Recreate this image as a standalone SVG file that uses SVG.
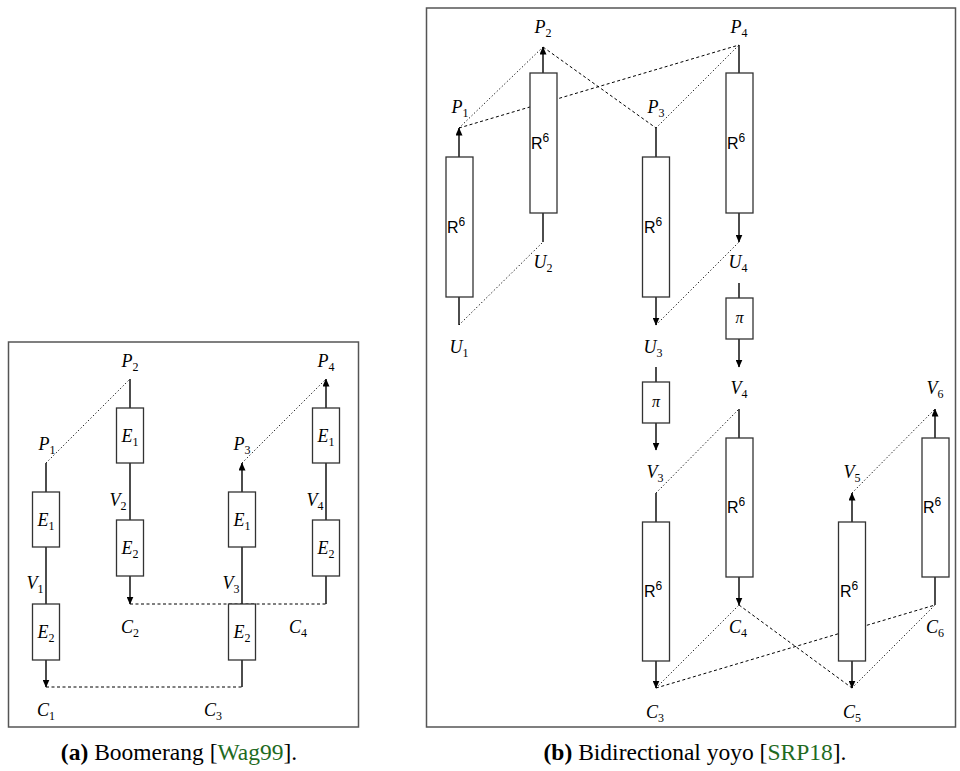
<svg xmlns="http://www.w3.org/2000/svg" width="960" height="771" viewBox="0 0 960 771">
<defs>
<marker id="ah" markerUnits="userSpaceOnUse" markerWidth="8" markerHeight="7" refX="7.5" refY="3.5" orient="auto">
<path d="M0,0 L8,3.5 L0,7 z" fill="#000"/>
</marker>
<style>
.frame{fill:none;stroke:#555;stroke-width:1.5}
.box{fill:#fff;stroke:#333;stroke-width:1.3}
.stem{fill:none;stroke:#000;stroke-width:1.4}
.arr{fill:none;stroke:#000;stroke-width:1.4;marker-end:url(#ah)}
.dot{fill:none;stroke:#000;stroke-width:1;stroke-dasharray:1.2 2.3}
.dash{fill:none;stroke:#000;stroke-width:1;stroke-dasharray:3 2.5}
.m{font-family:"Liberation Serif",serif;font-style:italic;font-size:18px;text-anchor:middle;fill:#000}
.s{font-size:12px;font-style:normal}
.r{font-family:"Liberation Sans",Arial,sans-serif;font-size:16px;text-anchor:middle;fill:#000}
.pi{font-family:"Liberation Serif",serif;font-style:italic;font-size:16px;text-anchor:middle;fill:#000}
.cap{font-family:"Liberation Serif","Times New Roman",serif;font-size:23.5px;text-anchor:middle;fill:#000}
.cite{fill:#1f6b1f}
</style>
</defs>
<rect class="frame" x="8.5" y="342" width="350" height="385"/>
<rect class="frame" x="426.5" y="8" width="529" height="719"/>

<g id="connectors">
<line class="stem" x1="46" y1="463" x2="46" y2="492"/>
<line class="stem" x1="46" y1="547" x2="46" y2="604"/>
<line class="arr" x1="46" y1="660" x2="46" y2="687"/>
<line class="stem" x1="130" y1="379" x2="130" y2="408"/>
<line class="stem" x1="130" y1="463" x2="130" y2="520"/>
<line class="arr" x1="130" y1="576" x2="130" y2="604"/>
<line class="arr" x1="242" y1="492" x2="242" y2="463"/>
<line class="stem" x1="242" y1="547" x2="242" y2="604"/>
<line class="stem" x1="242" y1="660" x2="242" y2="687"/>
<line class="arr" x1="326" y1="408" x2="326" y2="379"/>
<line class="stem" x1="326" y1="463" x2="326" y2="520"/>
<line class="stem" x1="326" y1="576" x2="326" y2="604"/>
<line class="dot" x1="46" y1="463" x2="130" y2="379"/>
<line class="dot" x1="242" y1="463" x2="326" y2="379"/>
<line class="dash" x1="130" y1="604" x2="326" y2="604"/>
<line class="dash" x1="46" y1="687" x2="242" y2="687"/>
<line class="arr" x1="459" y1="157" x2="459" y2="128"/>
<line class="stem" x1="459" y1="297" x2="459" y2="325"/>
<line class="arr" x1="543" y1="73" x2="543" y2="47"/>
<line class="stem" x1="543" y1="213" x2="543" y2="242"/>
<line class="stem" x1="656" y1="128" x2="656" y2="157"/>
<line class="arr" x1="656" y1="297" x2="656" y2="325"/>
<line class="stem" x1="656" y1="367" x2="656" y2="382"/>
<line class="arr" x1="656" y1="423" x2="656" y2="450"/>
<line class="stem" x1="656" y1="493" x2="656" y2="522"/>
<line class="arr" x1="656" y1="661" x2="656" y2="688"/>
<line class="stem" x1="739" y1="45" x2="739" y2="73"/>
<line class="arr" x1="739" y1="213" x2="739" y2="242"/>
<line class="stem" x1="739" y1="283" x2="739" y2="298"/>
<line class="arr" x1="739" y1="339" x2="739" y2="367"/>
<line class="stem" x1="739" y1="409" x2="739" y2="438"/>
<line class="arr" x1="739" y1="577" x2="739" y2="605"/>
<line class="arr" x1="852" y1="522" x2="852" y2="493"/>
<line class="arr" x1="852" y1="661" x2="852" y2="688"/>
<line class="arr" x1="935" y1="438" x2="935" y2="409"/>
<line class="stem" x1="935" y1="577" x2="935" y2="605"/>
<line class="dot" x1="459" y1="128" x2="543" y2="47"/>
<line class="dot" x1="656" y1="128" x2="739" y2="45"/>
<line class="dash" x1="543" y1="47" x2="656" y2="128"/>
<line class="dash" x1="459" y1="128" x2="739" y2="45"/>
<line class="dot" x1="459" y1="325" x2="543" y2="242"/>
<line class="dot" x1="656" y1="325" x2="739" y2="242"/>
<line class="dot" x1="656" y1="493" x2="739" y2="409"/>
<line class="dot" x1="852" y1="493" x2="935" y2="409"/>
<line class="dot" x1="656" y1="688" x2="739" y2="605"/>
<line class="dot" x1="852" y1="688" x2="935" y2="605"/>
<line class="dash" x1="739" y1="605" x2="852" y2="688"/>
<line class="dash" x1="656" y1="688" x2="935" y2="605"/>
</g>

<g id="a-c1-e1"><rect class="box" x="32.5" y="492" width="27" height="55"/><text class="m" x="46" y="526">E<tspan class="s" dy="4">1</tspan></text></g>
<g id="a-c1-e2"><rect class="box" x="32.5" y="604" width="27" height="56"/><text class="m" x="46" y="638">E<tspan class="s" dy="4">2</tspan></text></g>
<g id="a-c2-e1"><rect class="box" x="116.5" y="408" width="27" height="55"/><text class="m" x="130" y="442">E<tspan class="s" dy="4">1</tspan></text></g>
<g id="a-c2-e2"><rect class="box" x="116.5" y="520" width="27" height="56"/><text class="m" x="130" y="554">E<tspan class="s" dy="4">2</tspan></text></g>
<g id="a-c3-e1"><rect class="box" x="228.5" y="492" width="27" height="55"/><text class="m" x="242" y="526">E<tspan class="s" dy="4">1</tspan></text></g>
<g id="a-c3-e2"><rect class="box" x="228.5" y="604" width="27" height="56"/><text class="m" x="242" y="638">E<tspan class="s" dy="4">2</tspan></text></g>
<g id="a-c4-e1"><rect class="box" x="312.5" y="408" width="27" height="55"/><text class="m" x="326" y="442">E<tspan class="s" dy="4">1</tspan></text></g>
<g id="a-c4-e2"><rect class="box" x="312.5" y="520" width="27" height="56"/><text class="m" x="326" y="554">E<tspan class="s" dy="4">2</tspan></text></g>
<g id="a-labels">
<text class="m" x="47" y="450">P<tspan class="s" dy="4">1</tspan></text>
<text class="m" x="130" y="367">P<tspan class="s" dy="4">2</tspan></text>
<text class="m" x="242" y="450">P<tspan class="s" dy="4">3</tspan></text>
<text class="m" x="326" y="367">P<tspan class="s" dy="4">4</tspan></text>
<text class="m" x="35" y="589">V<tspan class="s" dy="4">1</tspan></text>
<text class="m" x="118" y="506">V<tspan class="s" dy="4">2</tspan></text>
<text class="m" x="231" y="589">V<tspan class="s" dy="4">3</tspan></text>
<text class="m" x="315" y="506">V<tspan class="s" dy="4">4</tspan></text>
<text class="m" x="46" y="716">C<tspan class="s" dy="4">1</tspan></text>
<text class="m" x="130" y="633">C<tspan class="s" dy="4">2</tspan></text>
<text class="m" x="213" y="716">C<tspan class="s" dy="4">3</tspan></text>
<text class="m" x="298" y="633">C<tspan class="s" dy="4">4</tspan></text>
</g>

<g id="b-c1-r"><rect class="box" x="446" y="157" width="27" height="140"/><text class="r" x="456" y="233">R<tspan class="s" dy="-7">6</tspan></text></g>
<g id="b-c2-r"><rect class="box" x="530" y="73" width="27" height="140"/><text class="r" x="540" y="149">R<tspan class="s" dy="-7">6</tspan></text></g>
<g id="b-c3-r1"><rect class="box" x="642.5" y="157" width="27" height="140"/><text class="r" x="653" y="233">R<tspan class="s" dy="-7">6</tspan></text></g>
<g id="b-c4-r1"><rect class="box" x="726" y="73" width="27" height="140"/><text class="r" x="736" y="149">R<tspan class="s" dy="-7">6</tspan></text></g>
<g id="b-c4-pi"><rect class="box" x="726" y="298" width="27" height="41"/><text class="pi" x="739.5" y="323">π</text></g>
<g id="b-c3-pi"><rect class="box" x="642.5" y="382" width="27" height="41"/><text class="pi" x="656" y="407">π</text></g>
<g id="b-c3-r2"><rect class="box" x="642.5" y="522" width="27" height="139"/><text class="r" x="653" y="597">R<tspan class="s" dy="-7">6</tspan></text></g>
<g id="b-c4-r2"><rect class="box" x="726" y="438" width="27" height="139"/><text class="r" x="736" y="513">R<tspan class="s" dy="-7">6</tspan></text></g>
<g id="b-c5-r"><rect class="box" x="838.5" y="522" width="27" height="139"/><text class="r" x="849" y="597">R<tspan class="s" dy="-7">6</tspan></text></g>
<g id="b-c6-r"><rect class="box" x="922" y="438" width="27" height="139"/><text class="r" x="932" y="513">R<tspan class="s" dy="-7">6</tspan></text></g>
<g id="b-labels">
<text class="m" x="460" y="113">P<tspan class="s" dy="4">1</tspan></text>
<text class="m" x="543" y="33">P<tspan class="s" dy="4">2</tspan></text>
<text class="m" x="656" y="113">P<tspan class="s" dy="4">3</tspan></text>
<text class="m" x="739" y="33">P<tspan class="s" dy="4">4</tspan></text>
<text class="m" x="459" y="353">U<tspan class="s" dy="4">1</tspan></text>
<text class="m" x="543" y="268">U<tspan class="s" dy="4">2</tspan></text>
<text class="m" x="653" y="353">U<tspan class="s" dy="4">3</tspan></text>
<text class="m" x="738" y="268">U<tspan class="s" dy="4">4</tspan></text>
<text class="m" x="655" y="478">V<tspan class="s" dy="4">3</tspan></text>
<text class="m" x="739" y="394">V<tspan class="s" dy="4">4</tspan></text>
<text class="m" x="852" y="478">V<tspan class="s" dy="4">5</tspan></text>
<text class="m" x="935" y="394">V<tspan class="s" dy="4">6</tspan></text>
<text class="m" x="655" y="718">C<tspan class="s" dy="4">3</tspan></text>
<text class="m" x="738" y="633">C<tspan class="s" dy="4">4</tspan></text>
<text class="m" x="852" y="718">C<tspan class="s" dy="4">5</tspan></text>
<text class="m" x="935" y="633">C<tspan class="s" dy="4">6</tspan></text>
</g>

<g id="captions">
<text class="cap" x="179" y="760"><tspan font-weight="bold">(a)</tspan> Boomerang [<tspan class="cite">Wag99</tspan>].</text>
<text class="cap" x="695" y="760"><tspan font-weight="bold">(b)</tspan> Bidirectional yoyo [<tspan class="cite">SRP18</tspan>].</text>
</g>
</svg>
